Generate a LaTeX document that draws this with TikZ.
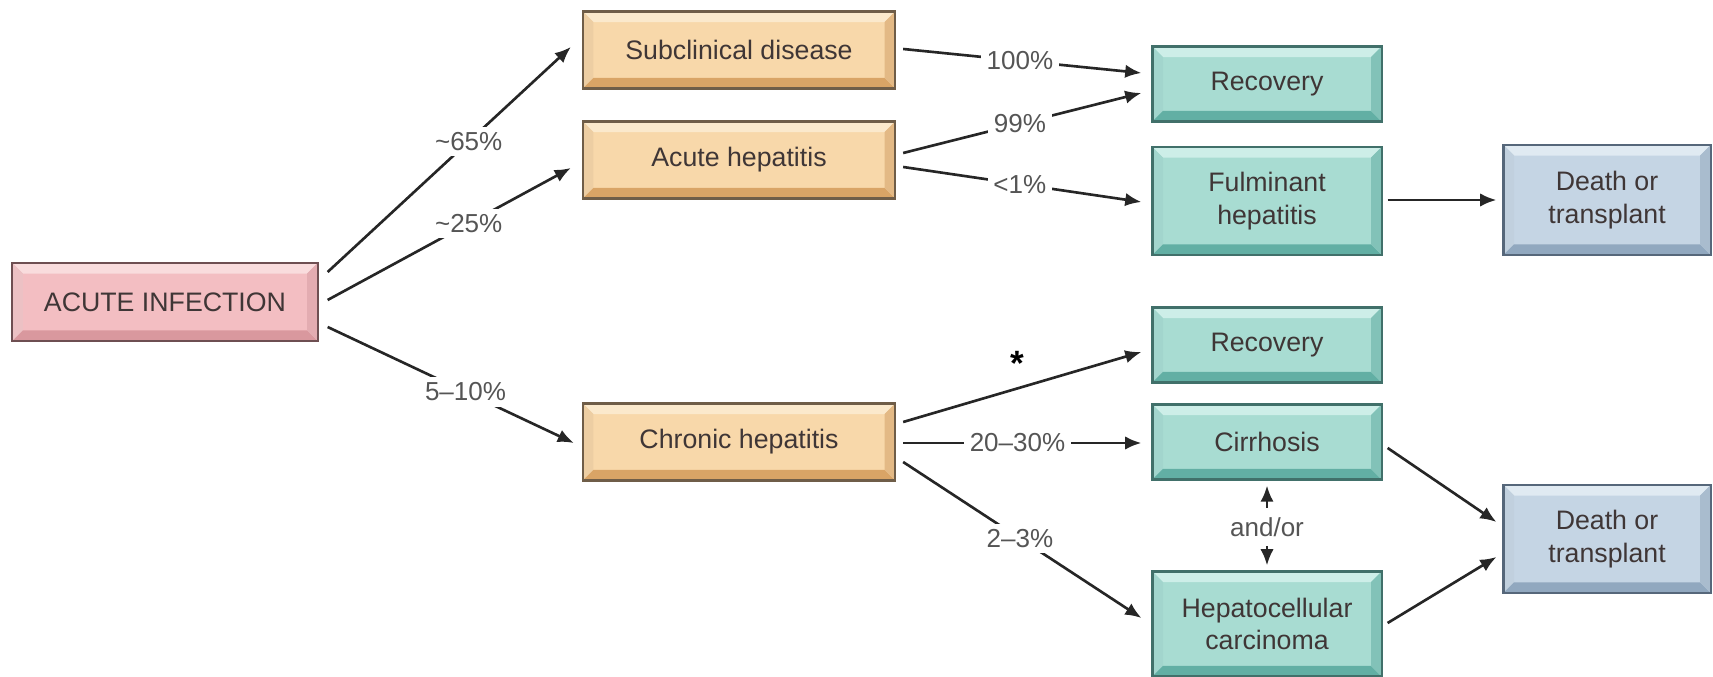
\documentclass[tikz,border=0pt]{standalone}
\usepackage{fontspec}
\setmainfont{Liberation Sans}
\usepackage{tikz,xcolor}
\usetikzlibrary{calc,positioning,arrows.meta}

\definecolor{pinkfill}{HTML}{F3BEC2}
\definecolor{pinklight}{HTML}{F9DCDD}
\definecolor{pinkdark}{HTML}{D9989E}
\definecolor{pinkedge}{HTML}{6E4F52}
\definecolor{orfill}{HTML}{F8D8AA}
\definecolor{orlight}{HTML}{FBE9CC}
\definecolor{ordark}{HTML}{D9A466}
\definecolor{oredge}{HTML}{6F5D48}
\definecolor{tlfill}{HTML}{A8DCD2}
\definecolor{tllight}{HTML}{CDEEE8}
\definecolor{tldark}{HTML}{62AFA4}
\definecolor{tledge}{HTML}{41706A}
\definecolor{blfill}{HTML}{C5D5E4}
\definecolor{bllight}{HTML}{E0EAF2}
\definecolor{bldark}{HTML}{91A8BF}
\definecolor{bledge}{HTML}{56677A}
\definecolor{txt}{HTML}{3F3636}
\definecolor{lbl}{HTML}{555555}

\newcommand\bevel[2]{%
  \path (path picture bounding box.south west) coordinate (bsw)
        (path picture bounding box.north east) coordinate (bne);
  \fill[#1] (bsw |- bne) -- (bne) -- ($(bne)+(-3pt,-3pt)$) -- ($(bsw |- bne)+(3pt,-3pt)$) -- cycle;
  \fill[#1!60!#2] (bsw) -- (bsw |- bne) -- ($(bsw |- bne)+(3pt,-3pt)$) -- ($(bsw)+(3pt,3pt)$) -- cycle;
  \fill[#2] (bsw) -- (bne |- bsw) -- ($(bne |- bsw)+(-3pt,3pt)$) -- ($(bsw)+(3pt,3pt)$) -- cycle;
  \fill[#2!70!#1] (bne |- bsw) -- (bne) -- ($(bne)+(-3pt,-3pt)$) -- ($(bne |- bsw)+(-3pt,3pt)$) -- cycle;
}

\tikzset{
  box/.style={rectangle, line width=0.6pt, inner sep=0pt, align=center, text=txt,
    font=\fontsize{7.6}{9.2}\selectfont},
  infbox/.style={box, fill=pinkfill, draw=pinkedge, minimum width=3.05cm, minimum height=0.78cm,
    path picture={\bevel{pinklight}{pinkdark}}},
  stagebox/.style={box, fill=orfill, draw=oredge, minimum width=3.12cm, minimum height=0.77cm,
    path picture={\bevel{orlight}{ordark}}},
  outbox/.style={box, fill=tlfill, draw=tledge, minimum width=2.29cm, minimum height=0.75cm,
    path picture={\bevel{tllight}{tldark}}},
  endbox/.style={box, fill=blfill, draw=bledge, minimum width=2.07cm, minimum height=1.1cm,
    path picture={\bevel{bllight}{bldark}}},
  arr/.style={-{Latex[length=4.6pt,width=3.8pt]}, line width=0.75pt, draw=black!85},
  pct/.style={fill=white, text=lbl, inner sep=1.6pt, font=\fontsize{7.4}{9}\selectfont}
}

\begin{document}
\begin{tikzpicture}[x=0.01cm, y=-0.01cm]
    \useasboundingbox (0,0) rectangle (1713,677);

    \node[infbox] (inf) at (165,302) {ACUTE INFECTION};

    \node[stagebox] (sub) at (739,50) {Subclinical disease};
    \node[stagebox] (ahep) at (739,160) {Acute hepatitis};
    \node[stagebox] (chr) at (739,442) {Chronic hepatitis};

    \node[outbox] (rec1) at (1267,84) {Recovery};
    \node[outbox, minimum height=1.08cm] (ful) at (1267,201) {Fulminant\\hepatitis};
    \node[outbox] (rec2) at (1267,345) {Recovery};
    \node[outbox] (cir) at (1267,442) {Cirrhosis};
    \node[outbox, minimum height=1.05cm] (hcc) at (1267,624) {Hepatocellular\\carcinoma};

    \node[endbox] (dth1) at (1607,200) {Death or\\transplant};
    \node[endbox, minimum height=1.08cm] (dth2) at (1607,539) {Death or\\transplant};

    \draw[arr] ($(inf.east)+(9,-30)$) -- node[pct, pos=.58] {\textasciitilde65\%} ($(sub.west)+(-11,-3)$);
    \draw[arr] ($(inf.east)+(9,-2)$) -- node[pct, pos=.58] {\textasciitilde25\%} ($(ahep.west)+(-11,8)$);
    \draw[arr] ($(inf.east)+(9,25)$) -- node[pct, pos=.56] {5--10\%} ($(chr.west)+(-8,1)$);

    \draw[arr] ($(sub.east)+(7,-1)$) -- node[pct, pos=.49] {100\%} ($(rec1.west)+(-10,-11)$);
    \draw[arr] ($(ahep.east)+(7,-7)$) -- node[pct, pos=.49] {99\%} ($(rec1.west)+(-10,9)$);
    \draw[arr] ($(ahep.east)+(7,7)$) -- node[pct, pos=.49] {<1\%} ($(ful.west)+(-10,1)$);
    \draw[arr] ($(ful.east)+(5,-1)$) -- ($(dth1.west)+(-6,0)$);

    \draw[arr] ($(chr.east)+(7,-20)$) -- node[pos=.48, above=0pt, font=\bfseries] {*} ($(rec2.west)+(-10,7)$);
    \draw[arr] ($(chr.east)+(7,1)$) -- node[pct, pos=.48] {20--30\%} ($(cir.west)+(-10,1)$);
    \draw[arr] ($(chr.east)+(7,20)$) -- node[pct, pos=.49] {2--3\%} ($(hcc.west)+(-10,-6)$);

    \node[pct, inner sep=2.5pt] (andor) at (1267,527) {and/or};
    \draw[arr] (andor) -- ($(cir.south)+(0,5)$);
    \draw[arr] (andor) -- ($(hcc.north)+(0,-5)$);

    \draw[arr] ($(cir.east)+(5,6)$) -- ($(dth2.west)+(-6,-17)$);
    \draw[arr] ($(hcc.east)+(5,-1)$) -- ($(dth2.west)+(-6,18)$);
\end{tikzpicture}
\end{document}
